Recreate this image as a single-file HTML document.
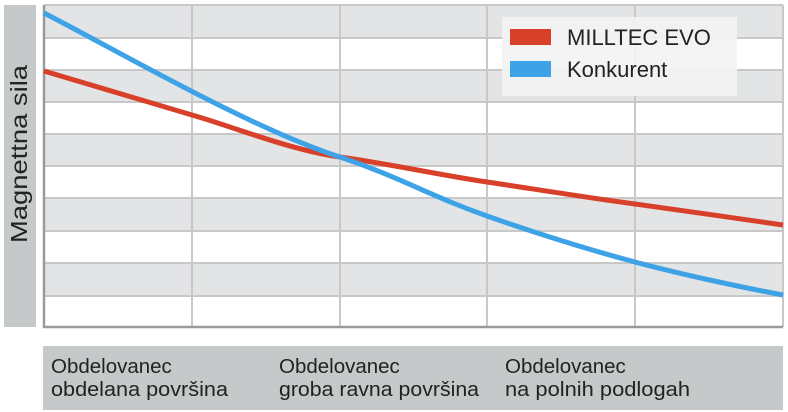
<!DOCTYPE html>
<html><head><meta charset="utf-8"><style>
body{margin:0;background:#fff;}
svg{display:block;font-family:"Liberation Sans",sans-serif;}
</style></head><body>
<svg width="788" height="412" viewBox="0 0 788 412">
<rect x="4" y="5" width="32" height="322" fill="#c5c9ca"/>
<text transform="translate(27,154) rotate(-90)" text-anchor="middle" font-size="23" fill="#222" textLength="178" lengthAdjust="spacingAndGlyphs">Magnettna sila</text>
<g fill="#e3e4e5">
<rect x="44" y="5" width="739" height="33"/>
<rect x="44" y="70" width="739" height="32"/>
<rect x="44" y="134" width="739" height="32"/>
<rect x="44" y="198" width="739" height="33"/>
<rect x="44" y="263" width="739" height="33"/>
</g>
<g stroke="#c8c8c8" stroke-width="2">
<line x1="44" y1="5" x2="783" y2="5"/>
<line x1="44" y1="38" x2="783" y2="38"/>
<line x1="44" y1="70" x2="783" y2="70"/>
<line x1="44" y1="102" x2="783" y2="102"/>
<line x1="44" y1="134" x2="783" y2="134"/>
<line x1="44" y1="166" x2="783" y2="166"/>
<line x1="44" y1="198" x2="783" y2="198"/>
<line x1="44" y1="231" x2="783" y2="231"/>
<line x1="44" y1="263" x2="783" y2="263"/>
<line x1="44" y1="296" x2="783" y2="296"/>
<line x1="192" y1="5" x2="192" y2="327"/>
<line x1="340" y1="5" x2="340" y2="327"/>
<line x1="487" y1="5" x2="487" y2="327"/>
<line x1="635" y1="5" x2="635" y2="327"/>
<line x1="783" y1="5" x2="783" y2="327"/>
</g>
<polyline points="44,5 44,327 783,327" fill="none" stroke="#9a9a9a" stroke-width="2.5"/>
<path d="M44,71 C100,88 150,103 192,115 S290,150 340,157 S440,175 487,182 S590,198 635,204 S740,219 783,225" fill="none" stroke="#d9402a" stroke-width="5"/>
<path d="M44,13 C120,52 250,128 340,157 C400,177 430,196 487,216 S590,250 635,262 S740,287 783,295" fill="none" stroke="#3ea3e6" stroke-width="5"/>
<rect x="502" y="17" width="235" height="79" fill="#f3f3f3" fill-opacity="0.92"/>
<rect x="510" y="29" width="41" height="16" fill="#d9402a"/>
<rect x="510" y="61" width="41" height="16" fill="#3ea3e6"/>
<text x="567" y="45" font-size="22" fill="#222">MILLTEC EVO</text>
<text x="567" y="77" font-size="22" fill="#222">Konkurent</text>
<rect x="43" y="346" width="740" height="64" fill="#c5c9ca"/>
<g font-size="20.5" fill="#222">
<text x="51" y="373">Obdelovanec</text><text x="51" y="396" textLength="177" lengthAdjust="spacingAndGlyphs">obdelana površina</text>
<text x="279" y="373">Obdelovanec</text><text x="279" y="396" textLength="200" lengthAdjust="spacingAndGlyphs">groba ravna površina</text>
<text x="505" y="373">Obdelovanec</text><text x="505" y="396" textLength="185" lengthAdjust="spacingAndGlyphs">na polnih podlogah</text>
</g>
</svg>
</body></html>
